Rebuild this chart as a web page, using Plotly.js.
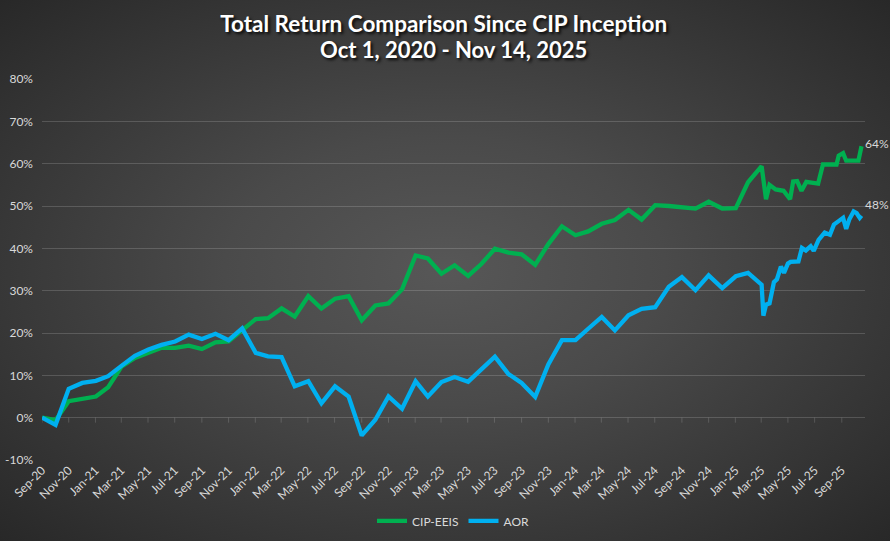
<!DOCTYPE html>
<html>
<head>
<meta charset="utf-8">
<script src="https://cdn.plot.ly/plotly-3.0.1.min.js"></script>
<style>
  html, body { margin: 0; padding: 0; }
  #chart {
    width: 890px; height: 541px;
    background: radial-gradient(ellipse farthest-corner at 50% 50%, #575757 0%, #4a4a4a 35%, #282828 100%);
  }
</style>
</head>
<body>
<div id="chart"></div>
<script>
// ---- Data (total return, %) ----
const monthDates = [
  "2020-09-30","2020-10-31","2020-11-30","2020-12-31",
  "2021-01-31","2021-02-28","2021-03-31","2021-04-30","2021-05-31","2021-06-30",
  "2021-07-31","2021-08-31","2021-09-30","2021-10-31","2021-11-30","2021-12-31",
  "2022-01-31","2022-02-28","2022-03-31","2022-04-30","2022-05-31","2022-06-30",
  "2022-07-31","2022-08-31","2022-09-30","2022-10-31","2022-11-30","2022-12-31",
  "2023-01-31","2023-02-28","2023-03-31","2023-04-30","2023-05-31","2023-06-30",
  "2023-07-31","2023-08-31","2023-09-30","2023-10-31","2023-11-30","2023-12-31",
  "2024-01-31","2024-02-29","2024-03-31","2024-04-30","2024-05-31","2024-06-30",
  "2024-07-31","2024-08-31","2024-09-30","2024-10-31","2024-11-30","2024-12-31",
  "2025-01-31","2025-02-28","2025-03-31"
];
const cipMonthly = [
  0, -0.6, 3.9, 4.4,
  5.0, 7.2, 12.1, 14.1, 15.3, 16.5,
  16.5, 17.0, 16.2, 17.8, 18.0, 20.6,
  23.3, 23.5, 25.8, 23.9, 28.7, 25.8,
  28.1, 28.7, 23.0, 26.5, 27.0, 30.3,
  38.3, 37.6, 34.0, 36.0, 33.5, 36.3,
  39.9, 39.0, 38.6, 36.1, 41.0, 45.2,
  43.1, 44.0, 45.8, 46.7, 49.1, 46.8,
  50.2, 50.0, 49.7, 49.4, 51.0, 49.4,
  49.5, 55.6, 59.4
];
const aorMonthly = [
  0, -1.7, 6.8, 8.2,
  8.7, 9.8, 12.3, 14.6, 16.1, 17.2,
  18.0, 19.6, 18.6, 19.8, 18.3, 21.1,
  15.3, 14.5, 14.3, 7.4, 8.6, 3.4,
  7.4, 5.0, -4.2, -0.5, 5.0, 2.1,
  8.6, 5.0, 8.4, 9.6, 8.5, 11.5,
  14.4, 10.3, 8.2, 4.9, 12.6, 18.3,
  18.3, 21.0, 23.8, 20.6, 24.2, 25.7,
  26.1, 30.9, 33.2, 30.1, 33.6, 30.6,
  33.4, 34.2, 31.4
];
// 2025 more frequent observations
const cipRecentDates = [
  "2025-04-10","2025-04-18","2025-05-02","2025-05-20","2025-05-27","2025-06-04",
  "2025-06-11","2025-06-20","2025-06-30","2025-07-11","2025-08-07","2025-08-18",
  "2025-09-18","2025-09-23","2025-10-03","2025-10-10","2025-11-07","2025-11-14"
];
const cipRecent = [
  51.6, 55.0, 53.9, 53.6, 52.5, 51.6,
  55.8, 55.9, 53.6, 55.7, 55.3, 59.8,
  59.8, 61.9, 62.5, 60.7, 60.7, 64.1
];
const aorRecentDates = [
  "2025-04-04","2025-04-10","2025-04-18","2025-04-28","2025-05-05","2025-05-14",
  "2025-05-21","2025-05-30","2025-06-05","2025-06-23","2025-07-01","2025-07-10",
  "2025-07-21","2025-07-28","2025-08-08","2025-08-22","2025-09-03","2025-09-12",
  "2025-09-25","2025-10-03","2025-10-10","2025-10-17","2025-10-27","2025-11-03",
  "2025-11-10","2025-11-14"
];
const aorRecent = [
  24.1, 26.7, 27.0, 32.0, 32.7, 35.7,
  34.2, 36.4, 36.8, 36.9, 40.1, 39.5,
  40.5, 39.4, 42.0, 43.7, 43.2, 45.6,
  46.6, 47.2, 44.6, 46.8, 48.7, 48.3,
  47.2, 47.7
];
const seriesNames = ["CIP-EEIS", "AOR"];
const titleLine1 = "Total Return Comparison Since CIP Inception";
const titleLine2 = "Oct 1, 2020 - Nov 14, 2025";
const tickDates = [
  "2020-09-30","2020-11-30","2021-01-30","2021-03-30","2021-05-30","2021-07-30",
  "2021-09-30","2021-11-30","2022-01-30","2022-03-30","2022-05-30","2022-07-30",
  "2022-09-30","2022-11-30","2023-01-30","2023-03-30","2023-05-30","2023-07-30",
  "2023-09-30","2023-11-30","2024-01-30","2024-03-30","2024-05-30","2024-07-30",
  "2024-09-30","2024-11-30","2025-01-30","2025-03-30","2025-05-30","2025-07-30",
  "2025-09-30"
];
const tickLabels = [
  "Sep-20","Nov-20","Jan-21","Mar-21","May-21","Jul-21",
  "Sep-21","Nov-21","Jan-22","Mar-22","May-22","Jul-22",
  "Sep-22","Nov-22","Jan-23","Mar-23","May-23","Jul-23",
  "Sep-23","Nov-23","Jan-24","Mar-24","May-24","Jul-24",
  "Sep-24","Nov-24","Jan-25","Mar-25","May-25","Jul-25",
  "Sep-25"
];
const yTicks = [-10, 0, 10, 20, 30, 40, 50, 60, 70, 80];
const yTickLabels = ["-10%", "0%", "10%", "20%", "30%", "40%", "50%", "60%", "70%", "80%"];

// ---- Build ----
const cipX = monthDates.concat(cipRecentDates);
const cipY = cipMonthly.concat(cipRecent);
const aorX = monthDates.concat(aorRecentDates);
const aorY = aorMonthly.concat(aorRecent);

const FONT = "Lato, 'Open Sans', sans-serif";
const TXT = "#d9d9d9";
const GRID = "rgba(255,255,255,0.16)";
const SHADOW = "2px 2px 3px rgba(0,0,0,0.85)";

const traces = [
  { x: cipX, y: cipY, name: seriesNames[0], type: "scatter", mode: "lines",
    line: { color: "#00B050", width: 4.3, shape: "linear" }, hoverinfo: "x+y" },
  { x: aorX, y: aorY, name: seriesNames[1], type: "scatter", mode: "lines",
    line: { color: "#00B0F0", width: 4.3, shape: "linear" }, hoverinfo: "x+y" }
];

const shapes = tickDates.map(d => ({
  type: "line", xref: "x", yref: "y", ysizemode: "pixel", yanchor: 0,
  x0: d, x1: d, y0: 0, y1: -5, line: { color: GRID, width: 1 }, layer: "below"
}));

const annotations = [
  { x: 0.5, y: 1.0787, xref: "paper", yref: "paper", xanchor: "center", yanchor: "middle",
    text: "<b>" + titleLine2 + "</b>", showarrow: false,
    font: { family: FONT, size: 22, color: "#ffffff", shadow: SHADOW } },
  { x: cipX[cipX.length - 1], y: cipY[cipY.length - 1], xref: "x", yref: "y",
    text: Math.round(cipY[cipY.length - 1]) + "%", showarrow: false,
    xanchor: "left", yanchor: "middle", xshift: 1, yshift: 3,
    font: { family: FONT, size: 12, color: TXT } },
  { x: aorX[aorX.length - 1], y: aorY[aorY.length - 1], xref: "x", yref: "y",
    text: Math.round(aorY[aorY.length - 1]) + "%", showarrow: false,
    xanchor: "left", yanchor: "middle", xshift: 1, yshift: 11,
    font: { family: FONT, size: 12, color: TXT } }
];

const layout = {
  width: 890, height: 541,
  paper_bgcolor: "rgba(0,0,0,0)", plot_bgcolor: "rgba(0,0,0,0)",
  margin: { l: 42, r: 25, t: 79, b: 81, autoexpand: false },
  font: { family: FONT, color: TXT, size: 12 },
  title: {
    text: "<b>" + titleLine1 + "</b>",
    x: 0.4985, xanchor: "center", xref: "container",
    y: 0.9556, yanchor: "middle", yref: "container",
    font: { family: FONT, size: 22.5, color: "#ffffff", shadow: SHADOW }
  },
  xaxis: {
    type: "date", range: ["2020-09-30", "2025-11-22"], automargin: false,
    tickmode: "array", tickvals: tickDates, ticktext: tickLabels,
    tickangle: -45, showgrid: false, zeroline: false, showline: false,
    ticks: "", tickfont: { family: FONT, size: 12, color: TXT }
  },
  yaxis: {
    range: [-10, 80], automargin: false, tickmode: "array", tickvals: yTicks, ticktext: yTickLabels,
    showgrid: true, gridcolor: GRID, gridwidth: 1, zeroline: false,
    showline: false, ticks: "", ticklabelstandoff: 8,
    tickfont: { family: FONT, size: 12, color: TXT }
  },
  showlegend: true,
  legend: {
    orientation: "h", x: 0.5, xanchor: "center", y: -0.16, yanchor: "middle",
    font: { family: FONT, size: 12, color: TXT }, itemwidth: 30,
    bgcolor: "rgba(0,0,0,0)"
  },
  shapes: shapes,
  annotations: annotations
};

Plotly.newPlot("chart", traces, layout, { displayModeBar: false, staticPlot: true });
</script>
</body>
</html>
